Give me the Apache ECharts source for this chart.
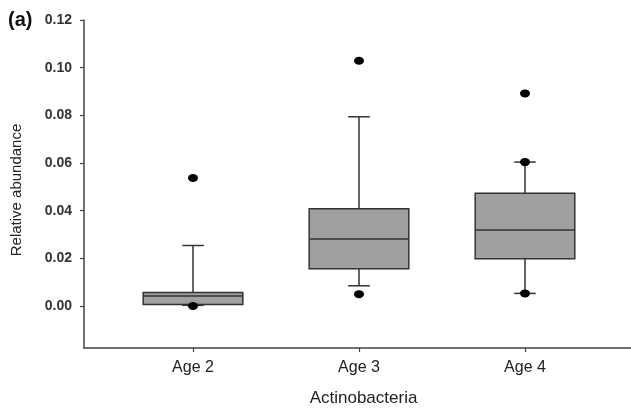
<!DOCTYPE html>
<html>
<head>
<meta charset="utf-8">
<script src="https://cdn.jsdelivr.net/npm/echarts@6/dist/echarts.min.js"></script>
<style>html,body{margin:0;padding:0;background:#fff}#c{width:631px;height:412px}</style>
</head>
<body>
<div id="c"></div>
<script>
const categories = ['Age 2', 'Age 3', 'Age 4'];
const whiskerLow  = [0.0003, 0.0085, 0.0053];
const q1          = [0.0007, 0.0156, 0.0198];
const median      = [0.0042, 0.0281, 0.0319];
const q3          = [0.0057, 0.0408, 0.0473];
const whiskerHigh = [0.0254, 0.0794, 0.0604];
const outliers = [
  [0.0537, 0.0000],
  [0.1029, 0.0050],
  [0.0892, 0.0604, 0.0053]
];
const yTicks = [0, 0.02, 0.04, 0.06, 0.08, 0.10, 0.12];

const boxData = categories.map((c, i) => [i, whiskerLow[i], q1[i], median[i], q3[i], whiskerHigh[i]]);
const outlierData = [];
outliers.forEach((arr, i) => arr.forEach(v => outlierData.push([i, v])));

const chart = echarts.init(document.getElementById('c'), null, {renderer: 'canvas'});
const font = 'Arial, "Liberation Sans", sans-serif';
chart.setOption({
  animation: false,
  backgroundColor: '#fff',
  grid: {left: 84, right: 0, top: 20, bottom: 64},
  graphic: [{
    type: 'text', left: 8, top: 10,
    style: {text: '(a)', font: 'bold 20px ' + font, fill: '#111'}
  }],
  xAxis: {
    type: 'value', min: -0.6566, max: 2.6386,
    name: 'Actinobacteria', nameLocation: 'middle', nameGap: 42,
    nameTextStyle: {fontFamily: font, fontSize: 17, color: '#222', padding: [0, 0, 0, 12]},
    splitLine: {show: false},
    axisLine: {show: true, onZero: false, lineStyle: {color: '#444', width: 1.5}},
    axisTick: {show: true, length: 4, customValues: [0, 1, 2], lineStyle: {color: '#444', width: 1.2}},
    axisLabel: {customValues: [0, 1, 2], margin: 12, fontFamily: font, fontSize: 16, color: '#222',
      formatter: v => categories[Math.round(v)]}
  },
  yAxis: {
    type: 'value', min: -0.0176, max: 0.12,
    name: 'Relative abundance', nameLocation: 'middle', nameGap: 60, nameRotate: 90,
    nameTextStyle: {fontFamily: font, fontSize: 15, color: '#222', padding: [0, 12, 0, 0]},
    splitLine: {show: false},
    axisLine: {show: true, onZero: false, lineStyle: {color: '#444', width: 1.5}},
    axisTick: {show: true, length: 4, customValues: yTicks, lineStyle: {color: '#444', width: 1.2}},
    axisLabel: {customValues: yTicks, margin: 12, fontFamily: font, fontSize: 14, fontWeight: 'bold', color: '#333',
      formatter: v => v.toFixed(2)}
  },
  series: [{
    type: 'custom',
    data: boxData,
    encode: {x: 0, y: [1, 2, 3, 4, 5]},
    renderItem: function (params, api) {
      const x = api.value(0);
      const lo = api.coord([x, api.value(1)]);
      const b1 = api.coord([x, api.value(2)]);
      const md = api.coord([x, api.value(3)]);
      const b3 = api.coord([x, api.value(4)]);
      const hi = api.coord([x, api.value(5)]);
      const bw = api.size([0.6, 0])[0];
      const cw = api.size([0.13, 0])[0];
      const cx = lo[0];
      const ls = {stroke: '#333', lineWidth: 1.5};
      return {
        type: 'group',
        children: [
          {type: 'line', shape: {x1: cx, y1: hi[1], x2: cx, y2: b3[1]}, style: ls},
          {type: 'line', shape: {x1: cx, y1: b1[1], x2: cx, y2: lo[1]}, style: ls},
          {type: 'line', shape: {x1: cx - cw / 2, y1: hi[1], x2: cx + cw / 2, y2: hi[1]}, style: ls},
          {type: 'line', shape: {x1: cx - cw / 2, y1: lo[1], x2: cx + cw / 2, y2: lo[1]}, style: ls},
          {type: 'rect', shape: {x: cx - bw / 2, y: b3[1], width: bw, height: b1[1] - b3[1]},
            style: {fill: '#a0a0a0', stroke: '#333', lineWidth: 1.5}},
          {type: 'line', shape: {x1: cx - bw / 2, y1: md[1], x2: cx + bw / 2, y2: md[1]}, style: ls}
        ]
      };
    }
  }, {
    type: 'scatter',
    data: outlierData,
    symbol: 'circle',
    symbolSize: [10, 8],
    itemStyle: {color: '#000', opacity: 1},
    z: 5
  }]
});
</script>
</body>
</html>
